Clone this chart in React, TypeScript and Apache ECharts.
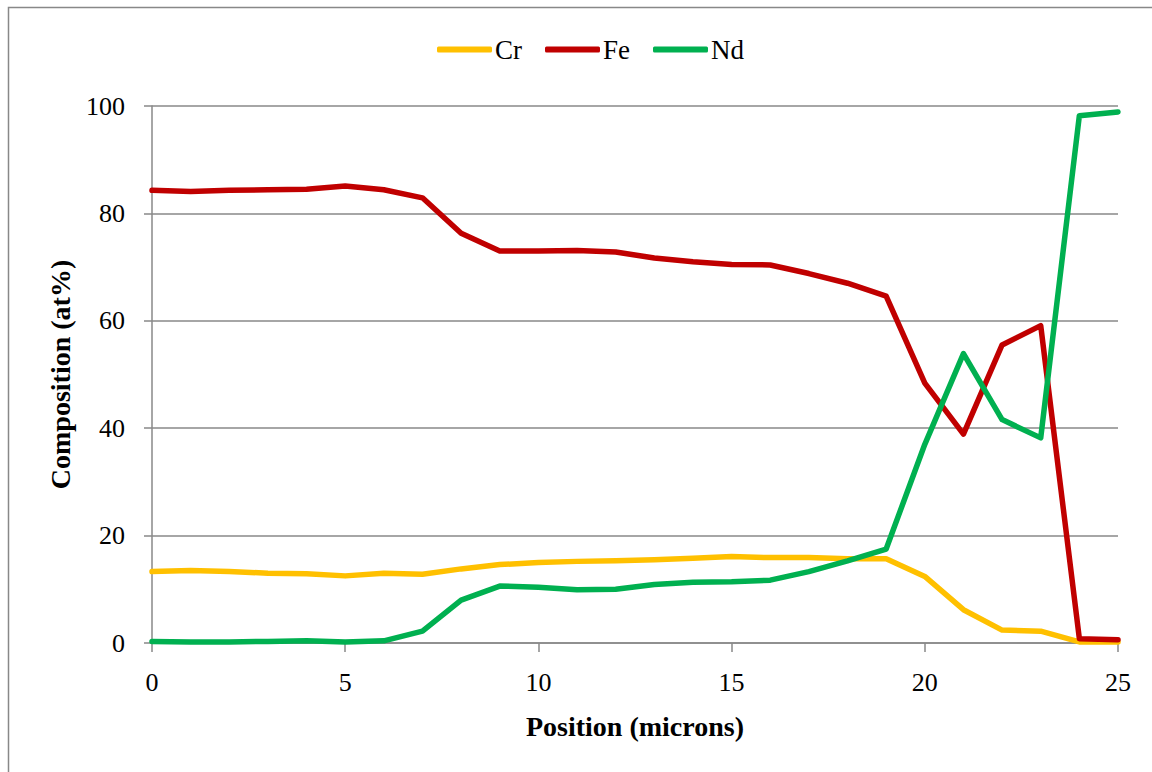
import React, { useEffect, useRef } from "react";
import * as echarts from "echarts";

const positions = [0, 1, 2, 3, 4, 5, 6, 7, 8, 9, 10, 11, 12, 13, 14, 15, 16, 17, 18, 19, 20, 21, 22, 23, 24, 25];
const cr = [13.3, 13.5, 13.3, 13.0, 12.9, 12.5, 13.0, 12.8, 13.8, 14.6, 15.0, 15.2, 15.3, 15.5, 15.8, 16.1, 15.9, 15.9, 15.7, 15.7, 12.4, 6.2, 2.4, 2.2, 0.2, 0.2];
const fe = [84.3, 84.1, 84.3, 84.4, 84.5, 85.1, 84.4, 82.9, 76.3, 73.0, 73.0, 73.1, 72.8, 71.7, 71.0, 70.5, 70.4, 68.8, 67.0, 64.6, 48.4, 38.9, 55.5, 59.1, 0.8, 0.6];
const nd = [0.3, 0.2, 0.2, 0.3, 0.4, 0.2, 0.4, 2.2, 8.0, 10.6, 10.4, 9.9, 10.0, 10.9, 11.3, 11.4, 11.7, 13.3, 15.3, 17.5, 37.0, 53.9, 41.6, 38.2, 98.2, 98.9];

const seriesNames = ["Cr", "Fe", "Nd"];
const seriesColors = ["#FFC000", "#C00000", "#00B050"];
const seriesValues = [cr, fe, nd];

const FONT = "'Palatino Linotype', 'Book Antiqua', Palatino, 'Liberation Serif', serif";

export default function App() {
  const ref = useRef<HTMLDivElement>(null);
  useEffect(() => {
    if (!ref.current) return;
    const chart = echarts.init(ref.current, null, { renderer: "svg" });
    chart.setOption({
      animation: false,
      backgroundColor: "#ffffff",
      textStyle: { fontFamily: FONT },
      graphic: [
        {
          type: "rect",
          shape: { x: 8.5, y: 7.5, width: 1300, height: 900 },
          style: { fill: "none", stroke: "#888888", lineWidth: 1.5 },
          silent: true,
        },
      ],
      legend: {
        top: 31,
        left: 432,
        icon: "roundRect",
        itemWidth: 55,
        itemHeight: 6,
        itemGap: 23,
        textStyle: { fontFamily: FONT, fontSize: 27, color: "#000", padding: [0, 0, 0, -2] },
        data: seriesNames,
      },
      grid: { left: 152, right: 34, top: 106, bottom: 129 },
      xAxis: {
        type: "value",
        min: 0,
        max: 25,
        interval: 5,
        name: "Position (microns)",
        nameLocation: "middle",
        nameGap: 69,
        nameTextStyle: { fontFamily: FONT, fontSize: 28, fontWeight: "bold", color: "#000" },
        axisLine: { show: true, lineStyle: { color: "#888888", width: 1.5 } },
        axisTick: { show: true, length: 9, lineStyle: { color: "#888888", width: 1.5 } },
        axisLabel: { fontFamily: FONT, fontSize: 26, color: "#000", margin: 26 },
        splitLine: { show: false },
      },
      yAxis: {
        type: "value",
        min: 0,
        max: 100,
        interval: 20,
        name: "Composition (at%)",
        nameLocation: "middle",
        nameGap: 78,
        nameTextStyle: { fontFamily: FONT, fontSize: 28, fontWeight: "bold", color: "#000" },
        axisLine: { show: true, lineStyle: { color: "#888888", width: 1.5 } },
        axisTick: { show: true, length: 8, lineStyle: { color: "#888888", width: 1.5 } },
        axisLabel: { fontFamily: FONT, fontSize: 26, color: "#000", margin: 27 },
        splitLine: { show: true, lineStyle: { color: "#888888", width: 1.5 } },
      },
      series: seriesNames.map((name, i) => ({
        name,
        type: "line",
        data: positions.map((p, j) => [p, seriesValues[i][j]]),
        symbol: "none",
        showSymbol: false,
        lineStyle: { color: seriesColors[i], width: 5.5, join: "round", cap: "round" },
        itemStyle: { color: seriesColors[i] },
        z: 3 + i,
      })),
    });
    return () => chart.dispose();
  }, []);
  return (
    <div
      ref={ref}
      style={{ position: "fixed", left: 0, top: 0, width: 1152, height: 772 }}
    />
  );
}
